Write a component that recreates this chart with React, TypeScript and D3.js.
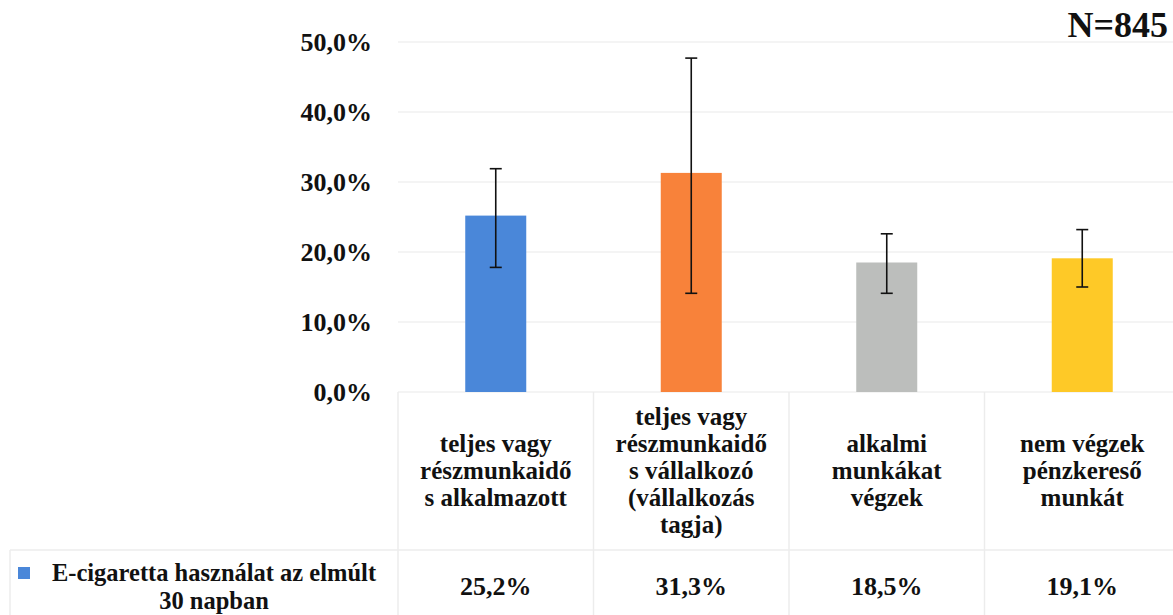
import React from "react";
import * as d3 from "d3";

const categories: string[][] = [
  ["teljes vagy", "részmunkaidő", "s alkalmazott"],
  ["teljes vagy", "részmunkaidő", "s vállalkozó", "(vállalkozás", "tagja)"],
  ["alkalmi", "munkákat", "végzek"],
  ["nem végzek", "pénzkereső", "munkát"],
];
const values = [25.2, 31.3, 18.5, 19.1];
const errLow = [17.8, 14.1, 14.1, 15.0];
const errHigh = [31.9, 47.7, 22.6, 23.2];
const valueLabels = ["25,2%", "31,3%", "18,5%", "19,1%"];
const yTicks = [0, 10, 20, 30, 40, 50];
const yTickLabels = ["0,0%", "10,0%", "20,0%", "30,0%", "40,0%", "50,0%"];
const colors = ["#4a87d9", "#f8823a", "#bcbebc", "#fec927"];
const seriesName = ["E-cigaretta használat az elmúlt", "30 napban"];
const nLabel = "N=845";

const W = 1173;
const H = 615;
const FONT = '"Liberation Serif", "Times New Roman", Tinos, "DejaVu Serif", serif';

export default function App() {
  const x = d3.scaleBand<number>().domain(d3.range(4)).range([398, 1180]).paddingInner(0).paddingOuter(0);
  const y = d3.scaleLinear().domain([0, 50]).range([392, 42]);
  const bw = 61;
  const gridColor = "#f0f0f0";
  const tableColor = "#ececec";
  const rowLineY = 550;
  const lineH = 27;
  const txt = { fontFamily: FONT, fontWeight: 700 as const };

  return (
    <svg width={W} height={H} style={{ position: "absolute", left: 0, top: 0, background: "#fff" }}>
      {yTicks.map((t, i) => (
        <g key={t}>
          <line x1={398} x2={1180} y1={y(t)} y2={y(t)} stroke={gridColor} strokeWidth={1.5} />
          <text style={txt} x={372} y={y(t)} dy="0.35em" textAnchor="end" fontSize={26} fill="#111">{yTickLabels[i]}</text>
        </g>
      ))}
      {d3.range(5).map((i) => (
        <line key={"v" + i} x1={398 + i * x.bandwidth()} x2={398 + i * x.bandwidth()} y1={y(0)} y2={H}
          stroke={tableColor} strokeWidth={1.5} />
      ))}
      <line x1={10} x2={1180} y1={rowLineY} y2={rowLineY} stroke={tableColor} strokeWidth={1.5} />
      <line x1={10} x2={10} y1={rowLineY} y2={H} stroke={tableColor} strokeWidth={1.5} />
      {values.map((v, i) => {
        const cx = (x(i) as number) + x.bandwidth() / 2;
        return (
          <g key={i}>
            <rect x={cx - bw / 2} y={y(v)} width={bw} height={y(0) - y(v)} fill={colors[i]} />
            <line x1={cx} x2={cx} y1={y(errLow[i])} y2={y(errHigh[i])} stroke="#111" strokeWidth={1.6} />
            <line x1={cx - 6} x2={cx + 6} y1={y(errLow[i])} y2={y(errLow[i])} stroke="#111" strokeWidth={1.6} />
            <line x1={cx - 6} x2={cx + 6} y1={y(errHigh[i])} y2={y(errHigh[i])} stroke="#111" strokeWidth={1.6} />
            <text style={txt} textAnchor="middle" fontSize={25} fill="#111">
              {categories[i].map((ln, j) => {
                const n = categories[i].length;
                const cy = 470 + (j - (n - 1) / 2) * lineH;
                return (
                  <tspan key={j} x={cx} y={cy} dy="0.35em">{ln}</tspan>
                );
              })}
            </text>
            <text style={txt} x={cx} y={586} dy="0.35em" textAnchor="middle" fontSize={26} fill="#111">{valueLabels[i]}</text>
          </g>
        );
      })}
      <rect x={18} y={567} width={12} height={12} fill={colors[0]} />
      <text style={txt} x={214} y={572} dy="0.35em" textAnchor="middle" fontSize={24.5} fill="#111">{seriesName[0]}</text>
      <text style={txt} x={214} y={600} dy="0.35em" textAnchor="middle" fontSize={24.5} fill="#111">{seriesName[1]}</text>
      <text style={txt} x={1168} y={37} textAnchor="end" fontSize={36} fill="#111">{nLabel}</text>
    </svg>
  );
}
